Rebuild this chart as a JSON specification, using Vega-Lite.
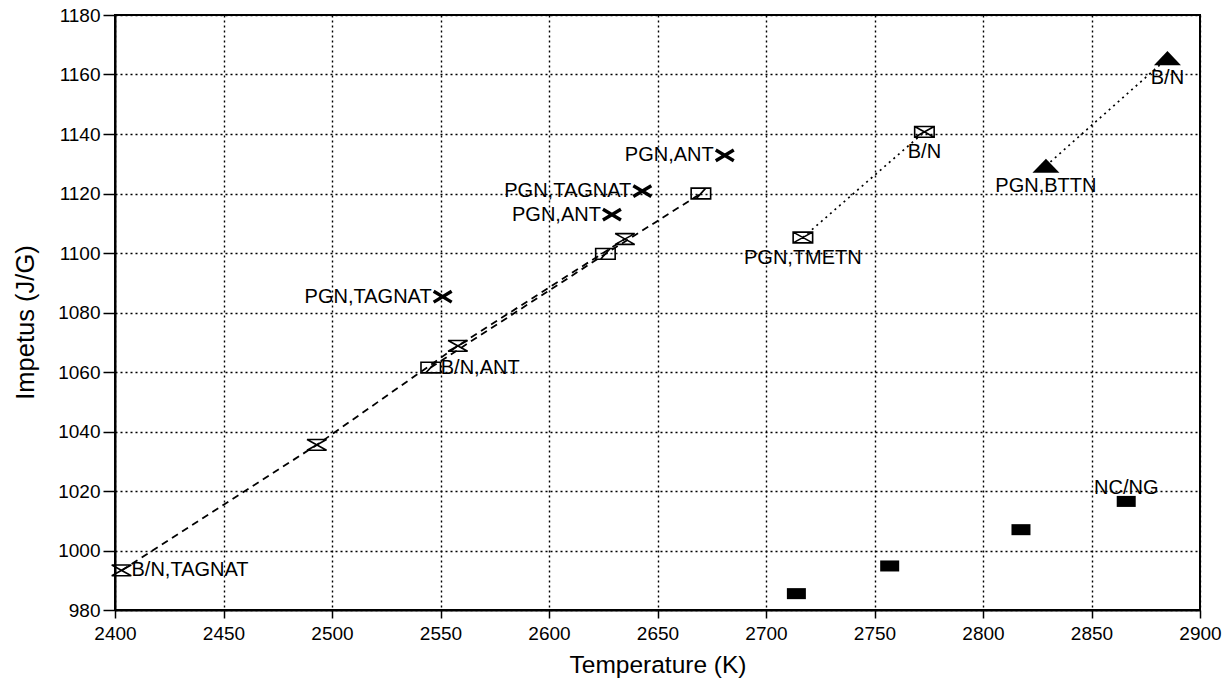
{
  "$schema": "https://vega.github.io/schema/vega-lite/v6.json",
  "width": 1085,
  "height": 595,
  "autosize": "none",
  "padding": {"left": 115, "top": 15, "right": 30, "bottom": 71},
  "background": "white",
  "config": {
    "view": {"stroke": "black", "strokeWidth": 2},
    "font": "Liberation Sans",
    "text": {"font": "Liberation Sans"}
  },
  "data": {
    "values": [
      {"series": "A", "T": 2403, "I": 993.3, "label": "B/N,TAGNAT"},
      {"series": "A", "T": 2493, "I": 1035.5, "label": ""},
      {"series": "A", "T": 2558, "I": 1068.8, "label": ""},
      {"series": "A", "T": 2635, "I": 1104.7, "label": ""},
      {"series": "B", "T": 2545.5, "I": 1061.5, "label": "B/N,ANT"},
      {"series": "B", "T": 2626, "I": 1099.7, "label": ""},
      {"series": "B", "T": 2670, "I": 1120, "label": ""},
      {"series": "C", "T": 2717, "I": 1105.2, "label": "PGN,TMETN"},
      {"series": "C", "T": 2773, "I": 1140.7, "label": "B/N"},
      {"series": "D", "T": 2551, "I": 1085.3, "label": "PGN,TAGNAT"},
      {"series": "D", "T": 2629, "I": 1112.9, "label": "PGN,ANT"},
      {"series": "D", "T": 2643, "I": 1120.8, "label": "PGN,TAGNAT"},
      {"series": "D", "T": 2681, "I": 1132.8, "label": "PGN,ANT"},
      {"series": "E", "T": 2829, "I": 1129.3, "label": "PGN,BTTN"},
      {"series": "E", "T": 2885, "I": 1165.5, "label": "B/N"},
      {"series": "F", "T": 2714, "I": 985.5, "label": ""},
      {"series": "F", "T": 2757, "I": 994.8, "label": ""},
      {"series": "F", "T": 2817.5, "I": 1007, "label": ""},
      {"series": "F", "T": 2866, "I": 1016.5, "label": "NC/NG"}
    ]
  },
  "encoding": {
    "x": {
      "field": "T", "type": "quantitative",
      "scale": {"domain": [2400, 2900], "nice": false, "zero": false},
      "axis": {
        "title": "Temperature (K)",
        "values": [2400, 2450, 2500, 2550, 2600, 2650, 2700, 2750, 2800, 2850, 2900],
        "format": "d",
        "grid": true, "gridDash": [2, 3], "gridColor": "black", "gridWidth": 1.4, "gridOpacity": 1,
        "domainColor": "black", "domainWidth": 2,
        "tickColor": "black", "tickSize": 8, "tickWidth": 1.5,
        "labelFont": "Liberation Sans", "labelFontSize": 19, "labelColor": "black", "labelPadding": 6,
        "labelFlush": false, "labelOverlap": false,
        "titleFont": "Liberation Sans", "titleFontSize": 24.5, "titleFontWeight": "normal", "titleColor": "black",
        "titleX": 542.5, "titleY": 62, "titleBaseline": "alphabetic", "titleAlign": "center"
      }
    },
    "y": {
      "field": "I", "type": "quantitative",
      "scale": {"domain": [980, 1180], "nice": false, "zero": false},
      "axis": {
        "title": "Impetus (J/G)",
        "values": [980, 1000, 1020, 1040, 1060, 1080, 1100, 1120, 1140, 1160, 1180],
        "format": "d",
        "grid": true, "gridDash": [2, 3], "gridColor": "black", "gridWidth": 1.4, "gridOpacity": 1,
        "domainColor": "black", "domainWidth": 2,
        "tickColor": "black", "tickSize": 12, "tickWidth": 1.5,
        "labelFont": "Liberation Sans", "labelFontSize": 19, "labelColor": "black", "labelPadding": 3,
        "labelFlush": false, "labelOverlap": false,
        "titleFont": "Liberation Sans", "titleFontSize": 25.5, "titleFontWeight": "normal", "titleColor": "black",
        "titleX": -90, "titleY": 307, "titleAngle": -90, "titleBaseline": "middle", "titleAlign": "center"
      }
    }
  },
  "layer": [
    {
      "transform": [{"filter": {"field": "series", "oneOf": ["A", "B"]}}],
      "mark": {"type": "line", "color": "black", "strokeWidth": 1.8, "strokeDash": [7, 5]},
      "encoding": {"detail": {"field": "series"}}
    },
    {
      "transform": [{"filter": {"field": "series", "oneOf": ["C", "E"]}}],
      "mark": {"type": "line", "color": "black", "strokeWidth": 1.7, "strokeDash": [2, 4]},
      "encoding": {"detail": {"field": "series"}}
    },
    {
      "transform": [{"filter": {"field": "series", "oneOf": ["A", "B", "C"]}}],
      "mark": {"type": "point", "filled": false, "color": "black", "strokeWidth": 1.6, "size": 380, "opacity": 1},
      "encoding": {
        "shape": {
          "field": "series", "type": "nominal", "legend": null,
          "scale": {
            "domain": ["A", "B", "C"],
            "range": [
              "M-1,-0.55L1,-0.55L-1,0.55L1,0.55Z",
              "M-1,-0.55H1V0.55H-1Z M-0.5,0.55L0.5,-0.55",
              "M-1,-0.55H1V0.55H-1Z M-1,-0.55L1,0.55 M-1,0.55L1,-0.55"
            ]
          }
        }
      }
    },
    {
      "transform": [{"filter": {"field": "series", "equal": "D"}}],
      "mark": {"type": "point", "shape": "M-1,-0.6L1,0.6M-1,0.6L1,-0.6", "filled": false, "color": "black", "strokeWidth": 3.4, "size": 324, "opacity": 1}
    },
    {
      "transform": [{"filter": {"field": "series", "equal": "E"}}],
      "mark": {"type": "point", "shape": "M0,-0.52L1,0.52L-1,0.52Z", "filled": true, "color": "black", "size": 729, "opacity": 1}
    },
    {
      "transform": [{"filter": {"field": "series", "equal": "F"}}],
      "mark": {"type": "point", "shape": "M-1,-0.58H1V0.58H-1Z", "filled": true, "color": "black", "size": 361, "opacity": 1}
    },
    {
      "transform": [{"filter": {"field": "series", "oneOf": ["A", "B"]}}],
      "mark": {"type": "text", "align": "left", "baseline": "middle", "dx": 10, "fontSize": 20, "color": "black"},
      "encoding": {"text": {"field": "label"}}
    },
    {
      "transform": [{"filter": {"field": "series", "equal": "D"}}],
      "mark": {"type": "text", "align": "right", "baseline": "middle", "dx": -11, "fontSize": 20, "color": "black"},
      "encoding": {"text": {"field": "label"}}
    },
    {
      "transform": [{"filter": {"field": "series", "oneOf": ["C", "E"]}}],
      "mark": {"type": "text", "align": "center", "baseline": "top", "dy": 10, "fontSize": 20, "color": "black"},
      "encoding": {"text": {"field": "label"}}
    },
    {
      "transform": [{"filter": {"field": "series", "equal": "F"}}],
      "mark": {"type": "text", "align": "center", "baseline": "alphabetic", "dy": -7, "fontSize": 20, "color": "black"},
      "encoding": {"text": {"field": "label"}}
    }
  ]
}
